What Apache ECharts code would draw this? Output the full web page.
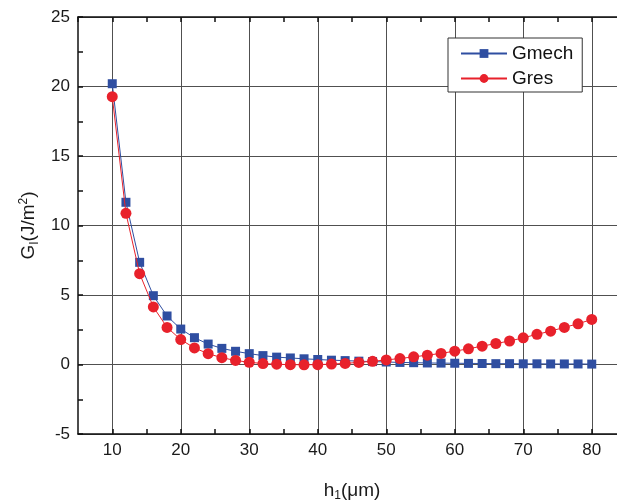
<!DOCTYPE html>
<html>
<head>
<meta charset="utf-8">
<script src="https://cdn.jsdelivr.net/npm/echarts@6/dist/echarts.min.js"></script>
<style>
  html, body { margin: 0; padding: 0; background: #fff; }
  #chart { width: 617px; height: 500px; }
</style>
</head>
<body>
<div id="chart"></div>
<script>
// Thickness h1 (µm) at which the energy release rate is evaluated
const h1Values = [10, 12, 14, 16, 18, 20, 22, 24, 26, 28, 30, 32, 34, 36, 38, 40, 42, 44,
                  46, 48, 50, 52, 54, 56, 58, 60, 62, 64, 66, 68, 70, 72, 74, 76, 78, 80];

// Mechanical energy release rate (J/m^2)
const gMech = [20.2, 11.67, 7.35, 4.95, 3.49, 2.55, 1.93, 1.47, 1.16, 0.95, 0.78, 0.64,
               0.53, 0.47, 0.41, 0.36, 0.31, 0.28, 0.24, 0.21, 0.18, 0.15, 0.13, 0.11,
               0.10, 0.09, 0.08, 0.07, 0.06, 0.06, 0.05, 0.05, 0.04, 0.04, 0.04, 0.03];

// Residual-stress energy release rate (J/m^2)
const gRes = [19.27, 10.88, 6.53, 4.14, 2.67, 1.79, 1.19, 0.78, 0.49, 0.29, 0.16, 0.07,
              0.02, -0.01, -0.02, -0.01, 0.03, 0.08, 0.15, 0.23, 0.33, 0.43, 0.55, 0.67,
              0.80, 0.96, 1.13, 1.32, 1.51, 1.69, 1.92, 2.17, 2.40, 2.67, 2.93, 3.24];

const seriesNames = ['Gmech', 'Gres'];

const FONT = 'Liberation Sans, Arial, sans-serif';
const gridColor = '#505050';
const inkColor = '#1a1a1a';

const chart = echarts.init(document.getElementById('chart'), null, { renderer: 'canvas' });

function pairs(xs, ys) {
  return xs.map((x, i) => [x, ys[i]]);
}

const tickLabelStyle = { fontFamily: FONT, fontSize: 17, color: inkColor };

const option = {
  animation: false,
  backgroundColor: '#ffffff',
  // the frame runs on past the right edge of the page
  grid: {
    left: 78, top: 17, width: 548, height: 417,
    containLabel: false,
    outerBoundsMode: 'none'
  },
  legend: {
    data: seriesNames,
    orient: 'vertical',
    left: 448,
    top: 38,
    itemWidth: 46,
    itemHeight: 11,
    itemGap: 6,
    padding: [6, 9, 4, 12],
    backgroundColor: '#ffffff',
    borderColor: '#333333',
    borderWidth: 1,
    borderRadius: 0,
    textStyle: { fontFamily: FONT, fontSize: 19, color: '#111' }
  },
  xAxis: [
    {
      type: 'value',
      min: 5,
      max: 85,
      interval: 5,
      position: 'bottom',
      name: '{a|h}{s|1}{a|(μm)}',
      nameLocation: 'middle',
      nameGap: 45,
      nameTextStyle: {
        rich: {
          a: { fontFamily: FONT, fontSize: 19, color: inkColor, lineHeight: 24 },
          s: { fontFamily: FONT, fontSize: 12, color: inkColor, lineHeight: 24, padding: [9, 0, 0, 0] }
        }
      },
      axisLine: { show: true, onZero: false, lineStyle: { color: '#111', width: 1.5 } },
      axisTick: { show: true, inside: true, length: 5, lineStyle: { color: '#111', width: 1.5 } },
      axisLabel: {
        ...tickLabelStyle,
        margin: 8,
        showMinLabel: false,
        showMaxLabel: false,
        formatter: v => (v % 10 === 0 ? String(v) : '')
      },
      // grid lines only at every other tick (10, 20, ...)
      splitLine: {
        show: true,
        lineStyle: { color: ['rgba(0,0,0,0)', gridColor], width: 1 }
      }
    },
    {
      type: 'value',
      min: 5,
      max: 85,
      interval: 5,
      position: 'top',
      axisLine: { show: true, onZero: false, lineStyle: { color: '#111', width: 1.5 } },
      axisTick: { show: true, inside: true, length: 5, lineStyle: { color: '#111', width: 1.5 } },
      axisLabel: { show: false },
      splitLine: { show: false }
    }
  ],
  yAxis: {
    type: 'value',
    min: -5,
    max: 25,
    interval: 5,
    name: '{a|G}{s|I}{a|(J/m}{p|2}{a|)}',
    nameLocation: 'middle',
    nameGap: 37,
    nameTextStyle: {
      rich: {
        a: { fontFamily: FONT, fontSize: 19, color: inkColor, lineHeight: 24 },
        s: { fontFamily: FONT, fontSize: 12, color: inkColor, lineHeight: 24, padding: [11, 0, 0, 0] },
        p: { fontFamily: FONT, fontSize: 12, color: inkColor, lineHeight: 24, padding: [0, 0, 10, 0] }
      }
    },
    axisLine: { show: true, onZero: false, lineStyle: { color: '#111', width: 1.5 } },
    axisTick: { show: true, inside: true, length: 5, lineStyle: { color: '#111', width: 1.5 } },
    minorTick: { show: true, splitNumber: 2, length: 5, lineStyle: { color: '#111', width: 1.5 } },
    axisLabel: { ...tickLabelStyle, margin: 8 },
    splitLine: { show: true, lineStyle: { color: gridColor, width: 1 } }
  },
  series: [
    {
      name: seriesNames[0],
      type: 'line',
      xAxisIndex: 0,
      data: pairs(h1Values, gMech),
      symbol: 'rect',
      symbolSize: 9,
      lineStyle: { color: '#2f4ea1', width: 1 },
      itemStyle: { color: '#2f4ea1' },
      z: 3
    },
    {
      name: seriesNames[1],
      type: 'line',
      xAxisIndex: 0,
      data: pairs(h1Values, gRes),
      symbol: 'circle',
      symbolSize: 11,
      lineStyle: { color: '#e8212b', width: 1 },
      itemStyle: { color: '#e8212b' },
      z: 4
    }
  ]
};

chart.setOption(option);
</script>
</body>
</html>
